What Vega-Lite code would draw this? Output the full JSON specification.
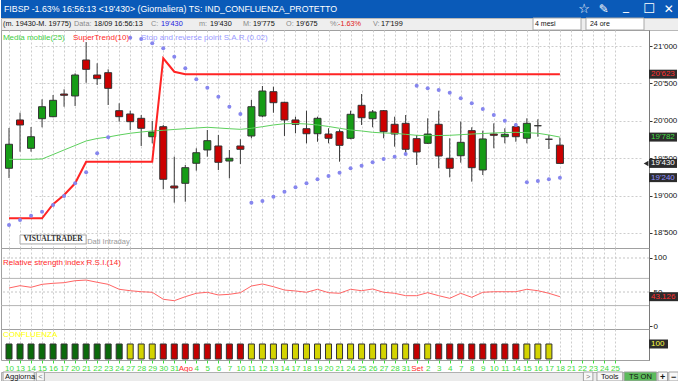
{
  "$schema": "https://vega.github.io/schema/vega-lite/v6.json",
  "padding": 0,
  "background": "#ffffff",
  "spacing": 0,
  "bounds": "flush",
  "resolve": {"scale": {"color": "independent", "fill": "independent", "strokeWidth": "independent"}},
  "config": {
    "view": {"stroke": null},
    "font": "Liberation Sans",
    "locale": {"number": {"decimal": ".", "thousands": "'", "grouping": [3], "currency": ["", ""]}},
    "axis": {"labelFont": "Liberation Sans", "labelFontSize": 8}
  },
  "datasets": {
    "px": [
      {"date":"2020-07-10","o":19365,"h":19904,"l":19235,"c":19686,"ma":19485,"st":18696,"sar":18607,"rsi":55.9,"conf":"buy"},
      {"date":"2020-07-13","o":20011,"h":20108,"l":19587,"c":19944,"ma":19485,"st":18696,"sar":18674,"rsi":59.3,"conf":"buy"},
      {"date":"2020-07-14","o":19632,"h":19917,"l":19587,"c":19787,"ma":19485,"st":18696,"sar":18731,"rsi":56.9,"conf":"buy"},
      {"date":"2020-07-15","o":20028,"h":20287,"l":19913,"c":20188,"ma":19489,"st":18696,"sar":18785,"rsi":61.3,"conf":"buy"},
      {"date":"2020-07-16","o":20055,"h":20345,"l":20047,"c":20274,"ma":19549,"st":18884,"sar":18874,"rsi":62.8,"conf":"buy"},
      {"date":"2020-07-17","o":20358,"h":20421,"l":20188,"c":20341,"ma":19610,"st":19008,"sar":18995,"rsi":63.7,"conf":"buy"},
      {"date":"2020-07-20","o":20332,"h":20635,"l":20198,"c":20612,"ma":19670,"st":19164,"sar":19164,"rsi":66.6,"conf":"buy"},
      {"date":"2020-07-21","o":20813,"h":21053,"l":20509,"c":20688,"ma":19730,"st":19453,"sar":19311,"rsi":67.6,"conf":"buy"},
      {"date":"2020-07-22","o":20612,"h":20769,"l":20479,"c":20563,"ma":19763,"st":19453,"sar":19565,"rsi":64.3,"conf":"buy"},
      {"date":"2020-07-23","o":20643,"h":20688,"l":20211,"c":20434,"ma":19783,"st":19453,"sar":19779,"rsi":61.3,"conf":"buy"},
      {"date":"2020-07-24","o":20135,"h":20234,"l":19988,"c":20055,"ma":19810,"st":19453,"sar":null,"rsi":54.0,"conf":"buy"},
      {"date":"2020-07-27","o":20091,"h":20135,"l":19877,"c":19988,"ma":19833,"st":19453,"sar":21110,"rsi":51.9,"conf":"neutral"},
      {"date":"2020-07-28","o":20033,"h":20077,"l":19663,"c":19900,"ma":19850,"st":19453,"sar":21094,"rsi":50.4,"conf":"neutral"},
      {"date":"2020-07-29","o":19787,"h":19997,"l":19699,"c":19850,"ma":19864,"st":19453,"sar":21036,"rsi":49.6,"conf":"neutral"},
      {"date":"2020-07-30","o":19921,"h":19944,"l":19084,"c":19218,"ma":19873,"st":20836,"sar":20969,"rsi":39.3,"conf":"sell"},
      {"date":"2020-07-31","o":19128,"h":19520,"l":18905,"c":19101,"ma":19884,"st":20656,"sar":20857,"rsi":37.2,"conf":"sell"},
      {"date":"2020-08-03","o":19164,"h":19409,"l":18918,"c":19373,"ma":19894,"st":20623,"sar":20702,"rsi":43.1,"conf":"sell"},
      {"date":"2020-08-04","o":19432,"h":19632,"l":19333,"c":19573,"ma":19904,"st":20623,"sar":20555,"rsi":48.1,"conf":"sell"},
      {"date":"2020-08-05","o":19610,"h":19877,"l":19520,"c":19734,"ma":19913,"st":20623,"sar":20442,"rsi":49.6,"conf":"sell"},
      {"date":"2020-08-06","o":19663,"h":19810,"l":19342,"c":19445,"ma":19904,"st":20623,"sar":20322,"rsi":45.6,"conf":"sell"},
      {"date":"2020-08-07","o":19462,"h":19610,"l":19231,"c":19499,"ma":19894,"st":20623,"sar":20188,"rsi":46.6,"conf":"sell"},
      {"date":"2020-08-10","o":19663,"h":19753,"l":19422,"c":19619,"ma":19886,"st":20623,"sar":20091,"rsi":49.0,"conf":"sell"},
      {"date":"2020-08-11","o":19797,"h":20278,"l":19766,"c":20188,"ma":19900,"st":20623,"sar":18905,"rsi":58.8,"conf":"neutral"},
      {"date":"2020-08-12","o":20064,"h":20465,"l":20047,"c":20398,"ma":19921,"st":20623,"sar":18928,"rsi":61.8,"conf":"neutral"},
      {"date":"2020-08-13","o":20389,"h":20456,"l":20108,"c":20242,"ma":19944,"st":20623,"sar":18985,"rsi":57.8,"conf":"neutral"},
      {"date":"2020-08-14","o":20247,"h":20255,"l":19797,"c":20011,"ma":19961,"st":20623,"sar":19052,"rsi":52.9,"conf":"neutral"},
      {"date":"2020-08-17","o":20011,"h":20055,"l":19833,"c":19953,"ma":19964,"st":20623,"sar":19111,"rsi":51.5,"conf":"neutral"},
      {"date":"2020-08-18","o":19894,"h":20135,"l":19699,"c":19827,"ma":19957,"st":20623,"sar":19164,"rsi":49.6,"conf":"neutral"},
      {"date":"2020-08-19","o":19827,"h":20055,"l":19720,"c":20033,"ma":19944,"st":20623,"sar":19218,"rsi":54.0,"conf":"neutral"},
      {"date":"2020-08-20","o":19823,"h":19900,"l":19699,"c":19766,"ma":19924,"st":20623,"sar":19262,"rsi":49.0,"conf":"neutral"},
      {"date":"2020-08-21","o":19854,"h":19886,"l":19453,"c":19672,"ma":19900,"st":20623,"sar":19306,"rsi":48.1,"conf":"neutral"},
      {"date":"2020-08-24","o":19766,"h":20135,"l":19753,"c":20087,"ma":19877,"st":20623,"sar":19365,"rsi":54.0,"conf":"neutral"},
      {"date":"2020-08-25","o":20207,"h":20358,"l":19944,"c":20041,"ma":19864,"st":20623,"sar":19400,"rsi":51.9,"conf":"neutral"},
      {"date":"2020-08-26","o":20028,"h":20144,"l":19913,"c":20118,"ma":19846,"st":20623,"sar":19445,"rsi":54.4,"conf":"neutral"},
      {"date":"2020-08-27","o":20135,"h":20144,"l":19766,"c":19854,"ma":19837,"st":20623,"sar":19489,"rsi":49.6,"conf":"neutral"},
      {"date":"2020-08-28","o":19953,"h":20055,"l":19654,"c":19823,"ma":19833,"st":20623,"sar":19520,"rsi":48.1,"conf":"neutral"},
      {"date":"2020-08-31","o":19966,"h":20077,"l":19543,"c":19619,"ma":19819,"st":20623,"sar":19556,"rsi":44.6,"conf":"neutral"},
      {"date":"2020-09-01","o":19761,"h":19810,"l":19409,"c":19583,"ma":19806,"st":20623,"sar":20469,"rsi":44.6,"conf":"sell"},
      {"date":"2020-09-02","o":19699,"h":20033,"l":19690,"c":19823,"ma":19801,"st":20623,"sar":20434,"rsi":49.0,"conf":"neutral"},
      {"date":"2020-09-03","o":19953,"h":20135,"l":19365,"c":19529,"ma":19803,"st":20623,"sar":20412,"rsi":44.6,"conf":"sell"},
      {"date":"2020-09-04","o":19499,"h":19766,"l":19244,"c":19365,"ma":19806,"st":20623,"sar":20376,"rsi":40.7,"conf":"sell"},
      {"date":"2020-09-07","o":19533,"h":19988,"l":19440,"c":19712,"ma":19814,"st":20623,"sar":20301,"rsi":48.1,"conf":"sell"},
      {"date":"2020-09-08","o":19868,"h":19913,"l":19186,"c":19373,"ma":19823,"st":20623,"sar":20234,"rsi":42.2,"conf":"sell"},
      {"date":"2020-09-09","o":19342,"h":19868,"l":19275,"c":19757,"ma":19830,"st":20623,"sar":20158,"rsi":49.6,"conf":"sell"},
      {"date":"2020-09-10","o":19823,"h":19966,"l":19632,"c":19806,"ma":19837,"st":20623,"sar":20077,"rsi":50.4,"conf":"sell"},
      {"date":"2020-09-11","o":19787,"h":19900,"l":19699,"c":19819,"ma":19843,"st":20623,"sar":20001,"rsi":50.4,"conf":"sell"},
      {"date":"2020-09-14","o":19921,"h":19966,"l":19720,"c":19787,"ma":19846,"st":20623,"sar":19944,"rsi":50.4,"conf":"sell"},
      {"date":"2020-09-15","o":19766,"h":20033,"l":19699,"c":19966,"ma":19841,"st":20623,"sar":19178,"rsi":54.0,"conf":"neutral"},
      {"date":"2020-09-16","o":19934,"h":20020,"l":19787,"c":19934,"ma":19833,"st":20623,"sar":19195,"rsi":51.9,"conf":"neutral"},
      {"date":"2020-09-17","o":19753,"h":19810,"l":19623,"c":19753,"ma":19810,"st":20623,"sar":19218,"rsi":48.1,"conf":"neutral"},
      {"date":"2020-09-18","o":19675,"h":19775,"l":19430,"c":19430,"ma":19782,"st":20623,"sar":19240,"rsi":43.126,"conf":null}
    ]
  },
  "vconcat": [
    {
      "width": 678, "height": 18,
      "view": {"fill": "#0a5ab8", "stroke": null},
      "data": {"values": [{}]},
      "layer": [
        {"mark": {"type": "text", "text": "FIBSP -1.63% 16:56:13 <19'430> (Giornaliera) TS: IND_CONFLUENZA_PROTETTO", "align": "left", "color": "#ffffff", "fontSize": 8.8},
         "encoding": {"x": {"datum": 0.0044, "type": "quantitative", "scale": {"domain": [0, 1], "zero": false, "nice": false}, "axis": null}}},
        {"mark": {"type": "text", "text": "☆", "align": "center", "color": "#ffffff", "fontSize": 13, "font": "DejaVu Sans"},
         "encoding": {"x": {"datum": 0.86, "type": "quantitative", "axis": null}}},
        {"mark": {"type": "text", "text": "✎", "align": "center", "color": "#ffffff", "fontSize": 12, "font": "DejaVu Sans"},
         "encoding": {"x": {"datum": 0.889, "type": "quantitative", "axis": null}}},
        {"mark": {"type": "text", "text": "_", "align": "center", "color": "#ffffff", "fontSize": 12, "font": "DejaVu Sans", "dy": -3},
         "encoding": {"x": {"datum": 0.922, "type": "quantitative", "axis": null}}},
        {"mark": {"type": "text", "text": "☐", "align": "center", "color": "#ffffff", "fontSize": 13, "font": "DejaVu Sans"},
         "encoding": {"x": {"datum": 0.956, "type": "quantitative", "axis": null}}},
        {"mark": {"type": "text", "text": "✕", "align": "center", "color": "#ffffff", "fontSize": 12, "font": "DejaVu Sans"},
         "encoding": {"x": {"datum": 0.985, "type": "quantitative", "axis": null}}}
      ]
    },
    {
      "width": 678, "height": 12,
      "view": {"fill": "#eeeeee", "stroke": "#b8b8b8"},
      "data": {"values": [{}]},
      "layer": [
        {"mark": {"type": "rect", "fill": "#ffffff", "stroke": "#a8a8a8"},
         "encoding": {"x": {"datum": 0.7847, "type": "quantitative", "scale": {"domain": [0, 1], "zero": false, "nice": false}, "axis": null}, "x2": {"datum": 0.8555}}},
        {"mark": {"type": "rect", "fill": "#ffffff", "stroke": "#a8a8a8"},
         "encoding": {"x": {"datum": 0.8628, "type": "quantitative", "axis": null}, "x2": {"datum": 0.9484}}},
        {"mark": {"type": "text", "text": "(m. 19430-M. 19775)", "align": "left", "color": "#111111", "fontSize": 7.3},
         "encoding": {"x": {"datum": 0.003, "type": "quantitative", "axis": null}}},
        {"mark": {"type": "text", "text": "Data:", "align": "left", "color": "#8a8a8a", "fontSize": 7.3},
         "encoding": {"x": {"datum": 0.1077, "type": "quantitative", "axis": null}}},
        {"mark": {"type": "text", "text": "18/09 16:56:13", "align": "left", "color": "#111111", "fontSize": 7.3},
         "encoding": {"x": {"datum": 0.1372, "type": "quantitative", "axis": null}}},
        {"mark": {"type": "text", "text": "C:", "align": "left", "color": "#8a8a8a", "fontSize": 7.3},
         "encoding": {"x": {"datum": 0.2212, "type": "quantitative", "axis": null}}},
        {"mark": {"type": "text", "text": "19'430", "align": "left", "color": "#2222dd", "fontSize": 7.3},
         "encoding": {"x": {"datum": 0.236, "type": "quantitative", "axis": null}}},
        {"mark": {"type": "text", "text": "m:", "align": "left", "color": "#8a8a8a", "fontSize": 7.3},
         "encoding": {"x": {"datum": 0.292, "type": "quantitative", "axis": null}}},
        {"mark": {"type": "text", "text": "19'430", "align": "left", "color": "#111111", "fontSize": 7.3},
         "encoding": {"x": {"datum": 0.3083, "type": "quantitative", "axis": null}}},
        {"mark": {"type": "text", "text": "M:", "align": "left", "color": "#8a8a8a", "fontSize": 7.3},
         "encoding": {"x": {"datum": 0.3569, "type": "quantitative", "axis": null}}},
        {"mark": {"type": "text", "text": "19'775", "align": "left", "color": "#111111", "fontSize": 7.3},
         "encoding": {"x": {"datum": 0.3717, "type": "quantitative", "axis": null}}},
        {"mark": {"type": "text", "text": "O:", "align": "left", "color": "#8a8a8a", "fontSize": 7.3},
         "encoding": {"x": {"datum": 0.4204, "type": "quantitative", "axis": null}}},
        {"mark": {"type": "text", "text": "19'675", "align": "left", "color": "#111111", "fontSize": 7.3},
         "encoding": {"x": {"datum": 0.4351, "type": "quantitative", "axis": null}}},
        {"mark": {"type": "text", "text": "%:", "align": "left", "color": "#8a8a8a", "fontSize": 7.3},
         "encoding": {"x": {"datum": 0.4853, "type": "quantitative", "axis": null}}},
        {"mark": {"type": "text", "text": "-1.63%", "align": "left", "color": "#e02020", "fontSize": 7.3},
         "encoding": {"x": {"datum": 0.497, "type": "quantitative", "axis": null}}},
        {"mark": {"type": "text", "text": "V:", "align": "left", "color": "#8a8a8a", "fontSize": 7.3},
         "encoding": {"x": {"datum": 0.5487, "type": "quantitative", "axis": null}}},
        {"mark": {"type": "text", "text": "17'199", "align": "left", "color": "#111111", "fontSize": 7.3},
         "encoding": {"x": {"datum": 0.5605, "type": "quantitative", "axis": null}}},
        {"mark": {"type": "text", "text": "4 mesi", "align": "left", "color": "#111111", "fontSize": 7},
         "encoding": {"x": {"datum": 0.7876, "type": "quantitative", "axis": null}}},
        {"mark": {"type": "text", "text": "24 ore", "align": "left", "color": "#111111", "fontSize": 7},
         "encoding": {"x": {"datum": 0.8687, "type": "quantitative", "axis": null}}}
      ]
    },
    {
      "width": 648, "height": 218,
      "view": {"stroke": "#a0a0a0"},
      "data": {"name": "px"},
      "layer": [
        {
          "layer": [
            {"mark": {"type": "rule", "color": "#3a3a3a", "strokeWidth": 1},
             "encoding": {
               "x": {"field": "date", "type": "ordinal",
                     "scale": {"type": "point", "padding": 0, "range": [8, 614], "domain": ["2020-07-10","2020-07-13","2020-07-14","2020-07-15","2020-07-16","2020-07-17","2020-07-20","2020-07-21","2020-07-22","2020-07-23","2020-07-24","2020-07-27","2020-07-28","2020-07-29","2020-07-30","2020-07-31","2020-08-03","2020-08-04","2020-08-05","2020-08-06","2020-08-07","2020-08-10","2020-08-11","2020-08-12","2020-08-13","2020-08-14","2020-08-17","2020-08-18","2020-08-19","2020-08-20","2020-08-21","2020-08-24","2020-08-25","2020-08-26","2020-08-27","2020-08-28","2020-08-31","2020-09-01","2020-09-02","2020-09-03","2020-09-04","2020-09-07","2020-09-08","2020-09-09","2020-09-10","2020-09-11","2020-09-14","2020-09-15","2020-09-16","2020-09-17","2020-09-18","2020-09-21","2020-09-22","2020-09-23","2020-09-24","2020-09-25"]},
                     "axis": {"title": null, "labels": false, "ticks": false, "domain": false, "grid": true, "gridColor": "#cdcdcd", "gridDash": [2, 2]}},
               "y": {"field": "l", "type": "quantitative",
                     "scale": {"domain": [18299, 21214], "zero": false, "nice": false, "padding": 0},
                     "axis": {"title": null, "orient": "right", "values": [18500, 19000, 19500, 20000, 20500, 21000], "format": ",d", "grid": true, "gridColor": "#cdcdcd", "gridDash": [2, 2], "tickSize": 3, "tickColor": "#333333", "domainColor": "#7a7a7a", "labelColor": "#111111", "labelPadding": 1}},
               "y2": {"field": "h"}
             }},
            {"mark": {"type": "bar", "size": 7, "stroke": "#333333", "strokeWidth": 1},
             "encoding": {
               "x": {"field": "date", "type": "ordinal"},
               "y": {"field": "o", "type": "quantitative"},
               "y2": {"field": "c"},
               "fill": {"condition": [{"test": "datum.c > datum.o", "value": "#169c16"}, {"test": "datum.c < datum.o", "value": "#cc0000"}], "value": "#000000"}
             }},
            {"transform": [{"fold": ["ma", "st"], "as": ["series", "val"]}],
             "mark": {"type": "line"},
             "encoding": {
               "x": {"field": "date", "type": "ordinal"},
               "y": {"field": "val", "type": "quantitative"},
               "color": {"field": "series", "type": "nominal",
                         "scale": {"domain": ["ma", "st", "sar"], "range": ["#5dd05d", "#ff2424", "#8686ee"]},
                         "legend": null},
               "strokeWidth": {"field": "series", "type": "nominal", "scale": {"domain": ["ma", "st"], "range": [1, 2]}, "legend": null}
             }},
            {"mark": {"type": "circle", "size": 16, "opacity": 1},
             "encoding": {
               "x": {"field": "date", "type": "ordinal"},
               "y": {"field": "sar", "type": "quantitative"},
               "color": {"datum": "sar", "type": "nominal"}
             }},
            {"data": {"values": [{"t": "VISUALTRADER"}]},
             "mark": {"type": "rect", "fill": "#ffffff", "stroke": "#a8a8a8", "strokeWidth": 1},
             "encoding": {
               "x": {"datum": "2020-07-13", "type": "ordinal"}, "x2": {"datum": "2020-07-21"},
               "y": {"datum": 18473, "type": "quantitative"}, "y2": {"datum": 18353}
             }},
            {"data": {"values": [{"t": "VISUALTRADER"}]},
             "mark": {"type": "text", "align": "center", "fontSize": 7.5, "fontWeight": "bold", "color": "#333333", "font": "Liberation Serif"},
             "encoding": {
               "x": {"datum": "2020-07-16", "type": "ordinal"},
               "y": {"datum": 18413, "type": "quantitative"},
               "text": {"field": "t"}
             }},
            {"data": {"values": [{"t": "Dati Intraday"}]},
             "mark": {"type": "text", "align": "left", "fontSize": 7.5, "color": "#9a9a9a", "dx": 1},
             "encoding": {
               "x": {"datum": "2020-07-21", "type": "ordinal"},
               "y": {"datum": 18375, "type": "quantitative"},
               "text": {"field": "t"}
             }}
          ]
        },
        {
          "layer": [
            {"transform": [{"filter": "datum.date == '2020-09-18'"}, {"fold": ["st", "ma", "c", "sar"], "as": ["k", "v"]}],
             "mark": {"type": "bar", "color": "#2c2c2c", "size": 9},
             "encoding": {
               "x": {"datum": 1, "type": "quantitative", "scale": {"domain": [0, 1], "zero": false, "nice": false}, "axis": null},
               "x2": {"datum": 1.0432},
               "y": {"field": "v", "type": "quantitative"}
             }},
            {"transform": [{"filter": "datum.date == '2020-09-18'"}],
             "mark": {"type": "point", "shape": "triangle-left", "filled": true, "color": "#2c2c2c", "size": 30, "opacity": 1},
             "encoding": {
               "x": {"datum": 0.9955, "type": "quantitative", "axis": null},
               "y": {"field": "c", "type": "quantitative"}
             }},
            {"transform": [{"filter": "datum.date == '2020-09-18'"}, {"fold": ["st", "ma", "c", "sar"], "as": ["k", "v"]}],
             "mark": {"type": "text", "align": "left", "dx": 2, "fontSize": 8},
             "encoding": {
               "x": {"datum": 1, "type": "quantitative", "axis": null},
               "y": {"field": "v", "type": "quantitative"},
               "text": {"field": "v", "type": "quantitative", "format": ",d"},
               "fill": {"field": "k", "type": "nominal", "scale": {"domain": ["st", "ma", "c", "sar"], "range": ["#ff3030", "#44dd44", "#ffffff", "#9090ff"]}, "legend": null}
             }},
            {"data": {"values": [{"t": "Media mobile(25)"}]},
             "mark": {"type": "text", "align": "left", "fontSize": 8, "color": "#3fcf3f"},
             "encoding": {"x": {"datum": 0.003, "type": "quantitative", "axis": null}, "y": {"datum": 21107, "type": "quantitative"}, "text": {"field": "t"}}},
            {"data": {"values": [{"t": "SuperTrend(10)"}]},
             "mark": {"type": "text", "align": "left", "fontSize": 8, "color": "#ff2a2a"},
             "encoding": {"x": {"datum": 0.111, "type": "quantitative", "axis": null}, "y": {"datum": 21107, "type": "quantitative"}, "text": {"field": "t"}}},
            {"data": {"values": [{"t": "Stop and reverse point S.A.R.(0.02)"}]},
             "mark": {"type": "text", "align": "left", "fontSize": 8, "color": "#9a9aff"},
             "encoding": {"x": {"datum": 0.216, "type": "quantitative", "axis": null}, "y": {"datum": 21107, "type": "quantitative"}, "text": {"field": "t"}}}
          ]
        }
      ],
      "resolve": {"scale": {"x": "independent"}}
    },
    {
      "width": 648, "height": 81,
      "view": {"stroke": "#a0a0a0"},
      "data": {"name": "px"},
      "layer": [
        {
          "layer": [
            {"data": {"values": [{"lvl": 100}, {"lvl": 50}]},
             "mark": {"type": "rule", "color": "#c4c4c4", "strokeDash": [2, 2]},
             "encoding": {"y": {"field": "lvl", "type": "quantitative",
               "scale": {"domain": [-4.4, 114.7], "zero": false, "nice": false, "padding": 0},
               "axis": {"title": null, "orient": "right", "values": [0, 50, 100], "grid": false, "tickSize": 3, "tickColor": "#333333", "domainColor": "#7a7a7a", "labelColor": "#111111", "labelPadding": 1}}}},
            {"data": {"values": [{"lvl": 70}, {"lvl": 30}]},
             "mark": {"type": "rule", "color": "#b4b4b4"},
             "encoding": {"y": {"field": "lvl", "type": "quantitative"}}},
            {"mark": {"type": "line", "color": "#ff6464", "strokeWidth": 1},
             "encoding": {
               "x": {"field": "date", "type": "ordinal",
                     "scale": {"type": "point", "padding": 0, "range": [8, 614], "domain": ["2020-07-10","2020-07-13","2020-07-14","2020-07-15","2020-07-16","2020-07-17","2020-07-20","2020-07-21","2020-07-22","2020-07-23","2020-07-24","2020-07-27","2020-07-28","2020-07-29","2020-07-30","2020-07-31","2020-08-03","2020-08-04","2020-08-05","2020-08-06","2020-08-07","2020-08-10","2020-08-11","2020-08-12","2020-08-13","2020-08-14","2020-08-17","2020-08-18","2020-08-19","2020-08-20","2020-08-21","2020-08-24","2020-08-25","2020-08-26","2020-08-27","2020-08-28","2020-08-31","2020-09-01","2020-09-02","2020-09-03","2020-09-04","2020-09-07","2020-09-08","2020-09-09","2020-09-10","2020-09-11","2020-09-14","2020-09-15","2020-09-16","2020-09-17","2020-09-18","2020-09-21","2020-09-22","2020-09-23","2020-09-24","2020-09-25"]},
                     "axis": {"title": null, "labels": false, "ticks": false, "domain": false, "grid": true, "gridColor": "#cdcdcd", "gridDash": [2, 2]}},
               "y": {"field": "rsi", "type": "quantitative"}
             }},
            {"data": {"values": [{"t": "Relative strength index R.S.I.(14)"}]},
             "mark": {"type": "text", "align": "left", "fontSize": 8, "color": "#ff2a2a", "dx": -6},
             "encoding": {
               "x": {"datum": "2020-07-10", "type": "ordinal"},
               "y": {"datum": 93, "type": "quantitative"},
               "text": {"field": "t"}
             }}
          ]
        },
        {
          "transform": [{"filter": "datum.date == '2020-09-18'"}],
          "layer": [
            {"mark": {"type": "bar", "color": "#2c2c2c", "size": 9},
             "encoding": {
               "x": {"datum": 1, "type": "quantitative", "scale": {"domain": [0, 1], "zero": false, "nice": false}, "axis": null},
               "x2": {"datum": 1.0448},
               "y": {"field": "rsi", "type": "quantitative"}
             }},
            {"mark": {"type": "text", "align": "left", "dx": 2, "fontSize": 8, "color": "#ff3030"},
             "encoding": {
               "x": {"datum": 1, "type": "quantitative", "axis": null},
               "y": {"field": "rsi", "type": "quantitative"},
               "text": {"field": "rsi", "type": "quantitative", "format": ".3f"}
             }}
          ]
        }
      ],
      "resolve": {"scale": {"x": "independent"}}
    },
    {
      "width": 648, "height": 31,
      "view": {"stroke": "#a0a0a0"},
      "data": {"name": "px"},
      "layer": [
        {
          "layer": [
            {"transform": [{"filter": "datum.conf != null"}],
             "mark": {"type": "bar", "size": 6, "stroke": "#333333", "strokeWidth": 1},
             "encoding": {
               "x": {"field": "date", "type": "ordinal",
                     "scale": {"type": "point", "padding": 0, "range": [8, 614], "domain": ["2020-07-10","2020-07-13","2020-07-14","2020-07-15","2020-07-16","2020-07-17","2020-07-20","2020-07-21","2020-07-22","2020-07-23","2020-07-24","2020-07-27","2020-07-28","2020-07-29","2020-07-30","2020-07-31","2020-08-03","2020-08-04","2020-08-05","2020-08-06","2020-08-07","2020-08-10","2020-08-11","2020-08-12","2020-08-13","2020-08-14","2020-08-17","2020-08-18","2020-08-19","2020-08-20","2020-08-21","2020-08-24","2020-08-25","2020-08-26","2020-08-27","2020-08-28","2020-08-31","2020-09-01","2020-09-02","2020-09-03","2020-09-04","2020-09-07","2020-09-08","2020-09-09","2020-09-10","2020-09-11","2020-09-14","2020-09-15","2020-09-16","2020-09-17","2020-09-18","2020-09-21","2020-09-22","2020-09-23","2020-09-24","2020-09-25"]},
                     "axis": {"title": null, "orient": "bottom", "domain": false, "grid": true, "gridColor": "#cdcdcd", "gridDash": [2, 2],
                              "ticks": true, "tickSize": 3, "tickColor": "#3cdc3c", "labelFontSize": 8, "labelPadding": 1, "labelAngle": 0, "labelOverlap": false,
                              "labelExpr": "datum.value == '2020-08-03' ? 'Ago' : datum.value == '2020-09-01' ? 'Set' : '' + toNumber(substring(datum.value, 8, 10))",
                              "labelColor": {"condition": {"test": "datum.value == '2020-08-03' || datum.value == '2020-09-01'", "value": "#ff2a2a"}, "value": "#3cdc3c"}}},
               "y": {"datum": 100, "type": "quantitative",
                     "scale": {"domain": [-6.7, 200], "zero": false, "nice": false, "padding": 0},
                     "axis": {"title": null, "orient": "right", "labels": false, "ticks": false, "grid": false, "domainColor": "#7a7a7a"}},
               "y2": {"datum": 0},
               "color": {"field": "conf", "type": "nominal", "scale": {"domain": ["buy", "neutral", "sell"], "range": ["#0b6a0b", "#d4d400", "#c40000"]}, "legend": null}
             }},
            {"data": {"values": [{"t": "CONFLUENZA"}]},
             "mark": {"type": "text", "align": "left", "fontSize": 8, "color": "#ffff00", "dx": -6},
             "encoding": {
               "x": {"datum": "2020-07-10", "type": "ordinal"},
               "y": {"datum": 160, "type": "quantitative"},
               "text": {"field": "t"}
             }}
          ]
        },
        {
          "data": {"values": [{"cv": 100}]},
          "layer": [
            {"mark": {"type": "bar", "color": "#2c2c2c", "size": 9},
             "encoding": {
               "x": {"datum": 1, "type": "quantitative", "scale": {"domain": [0, 1], "zero": false, "nice": false}, "axis": null},
               "x2": {"datum": 1.0293},
               "y": {"field": "cv", "type": "quantitative"}
             }},
            {"mark": {"type": "text", "align": "left", "dx": 2, "fontSize": 8, "color": "#ffff40"},
             "encoding": {
               "x": {"datum": 1, "type": "quantitative", "axis": null},
               "y": {"field": "cv", "type": "quantitative"},
               "text": {"field": "cv", "type": "quantitative"}
             }}
          ]
        }
      ],
      "resolve": {"scale": {"x": "independent"}}
    },
    {
      "width": 648, "height": 12,
      "data": {"values": [{}]},
      "mark": {"type": "point", "opacity": 0},
      "encoding": {}
    },
    {
      "width": 678, "height": 9,
      "view": {"fill": "#ebebeb", "stroke": "#b0b0b0"},
      "data": {"values": [{}]},
      "layer": [
        {"mark": {"type": "rect", "fill": "#f8f8f8", "stroke": "#a0a0a0"},
         "encoding": {"x": {"datum": 0.003, "type": "quantitative", "scale": {"domain": [0, 1], "zero": false, "nice": false}, "axis": null}, "x2": {"datum": 0.049}}},
        {"mark": {"type": "rect", "fill": "#f8f8f8", "stroke": "#a0a0a0"},
         "encoding": {"x": {"datum": 0.052, "type": "quantitative", "axis": null}, "x2": {"datum": 0.064}}},
        {"mark": {"type": "rect", "fill": "#f8f8f8", "stroke": "#a0a0a0"},
         "encoding": {"x": {"datum": 0.859, "type": "quantitative", "axis": null}, "x2": {"datum": 0.873}}},
        {"mark": {"type": "rect", "fill": "#f8f8f8", "stroke": "#a0a0a0"},
         "encoding": {"x": {"datum": 0.879, "type": "quantitative", "axis": null}, "x2": {"datum": 0.917}}},
        {"mark": {"type": "rect", "fill": "#5cbb5c", "stroke": "#a0a0a0"},
         "encoding": {"x": {"datum": 0.919, "type": "quantitative", "axis": null}, "x2": {"datum": 0.967}}},
        {"mark": {"type": "rect", "fill": "#f8f8f8", "stroke": "#a0a0a0"},
         "encoding": {"x": {"datum": 0.969, "type": "quantitative", "axis": null}, "x2": {"datum": 0.983}}},
        {"mark": {"type": "rect", "fill": "#f8f8f8", "stroke": "#a0a0a0"},
         "encoding": {"x": {"datum": 0.985, "type": "quantitative", "axis": null}, "x2": {"datum": 0.999}}},
        {"mark": {"type": "text", "text": "Aggiorna", "align": "left", "color": "#111111", "fontSize": 7.5},
         "encoding": {"x": {"datum": 0.006, "type": "quantitative", "axis": null}}},
        {"mark": {"type": "text", "text": "<", "align": "center", "color": "#777777", "fontSize": 7.5},
         "encoding": {"x": {"datum": 0.058, "type": "quantitative", "axis": null}}},
        {"mark": {"type": "text", "text": ">", "align": "center", "color": "#777777", "fontSize": 7.5},
         "encoding": {"x": {"datum": 0.866, "type": "quantitative", "axis": null}}},
        {"mark": {"type": "text", "text": "Tools", "align": "center", "color": "#111111", "fontSize": 7.5},
         "encoding": {"x": {"datum": 0.898, "type": "quantitative", "axis": null}}},
        {"mark": {"type": "text", "text": "TS ON", "align": "center", "color": "#111111", "fontSize": 7.5},
         "encoding": {"x": {"datum": 0.943, "type": "quantitative", "axis": null}}},
        {"mark": {"type": "text", "text": "+", "align": "center", "color": "#111111", "fontSize": 9, "fontWeight": "bold"},
         "encoding": {"x": {"datum": 0.976, "type": "quantitative", "axis": null}}},
        {"mark": {"type": "text", "text": "−", "align": "center", "color": "#111111", "fontSize": 9, "fontWeight": "bold"},
         "encoding": {"x": {"datum": 0.992, "type": "quantitative", "axis": null}}}
      ]
    }
  ]
}
